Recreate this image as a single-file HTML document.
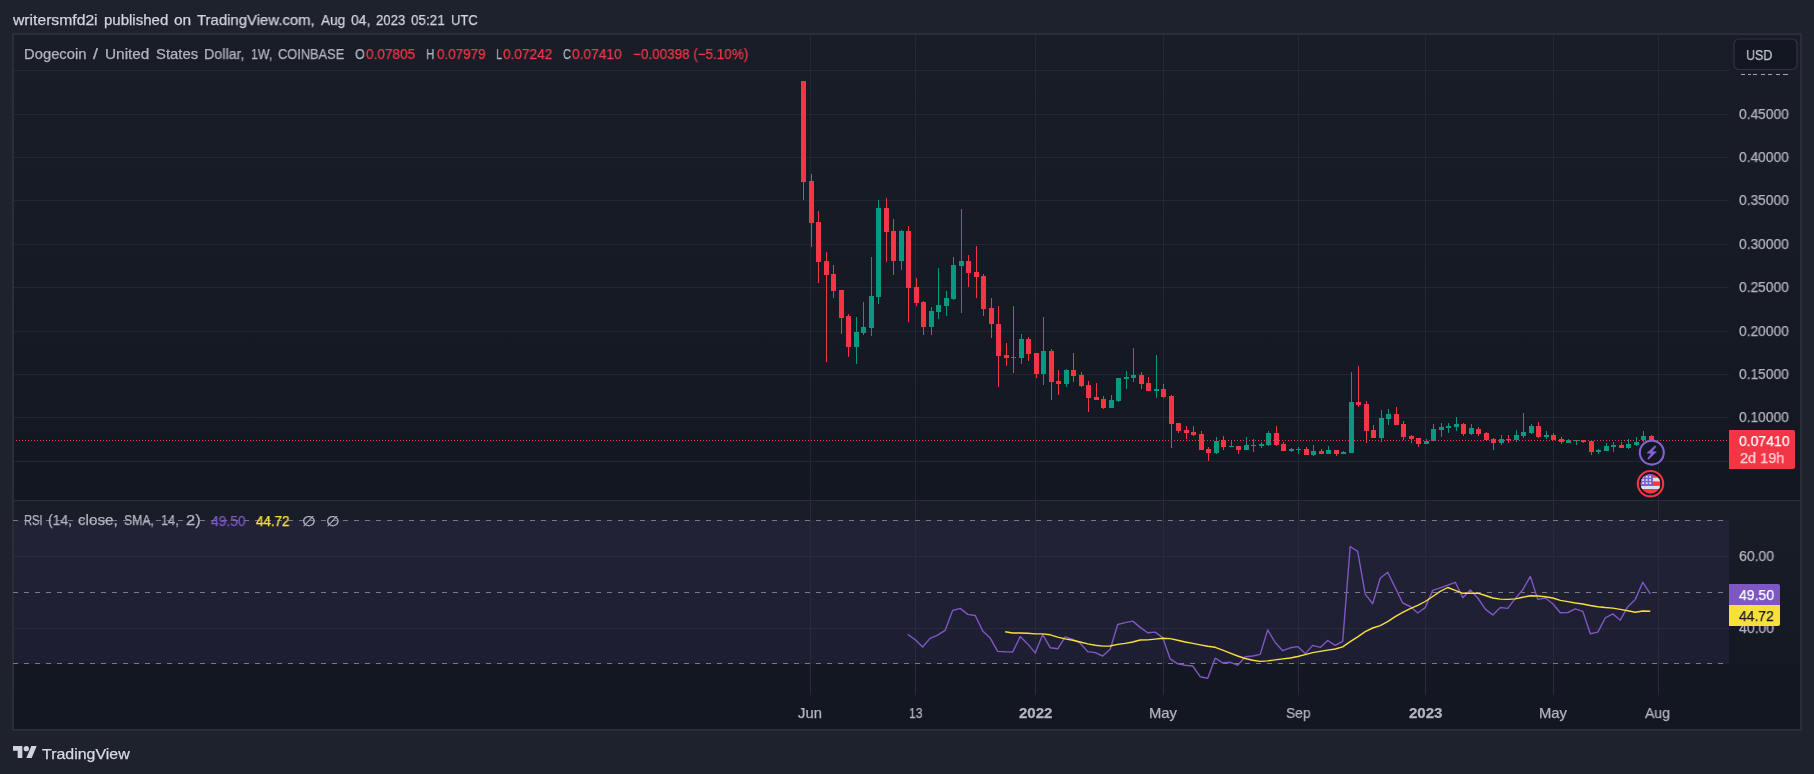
<!DOCTYPE html>
<html><head><meta charset="utf-8">
<style>
*{margin:0;padding:0;box-sizing:border-box}
html,body{width:1814px;height:774px;overflow:hidden;background:#1e222d;font-family:"Liberation Sans",sans-serif}
.t{position:absolute;white-space:nowrap;line-height:1;will-change:transform;-webkit-text-stroke:0.25px currentColor}
#frame{position:absolute;left:12px;top:33px;width:1790px;height:698px;border:2px solid #2a2e39;background:#161a25}
svg{position:absolute;left:0;top:0}
</style></head><body>
<div id="frame"></div>
<svg width="1814" height="774" viewBox="0 0 1814 774" shape-rendering="crispEdges">
<defs>
<linearGradient id="gm" x1="0" y1="0" x2="0" y2="1"><stop offset="0" stop-color="#191d28"/><stop offset="1" stop-color="#131722"/></linearGradient>
</defs>
<rect x="14" y="35" width="1786" height="465" fill="url(#gm)"/>
<rect x="14" y="501" width="1786" height="194" fill="url(#gm)"/>
<rect x="14" y="695" width="1786" height="34" fill="#131722"/>
<rect x="14" y="520" width="1715" height="144" fill="rgba(126,87,194,0.1)"/>
<rect x="14" y="461" width="1715" height="1" fill="rgba(42,46,57,0.65)"/>
<rect x="14" y="417" width="1715" height="1" fill="rgba(42,46,57,0.65)"/>
<rect x="14" y="374" width="1715" height="1" fill="rgba(42,46,57,0.65)"/>
<rect x="14" y="331" width="1715" height="1" fill="rgba(42,46,57,0.65)"/>
<rect x="14" y="287" width="1715" height="1" fill="rgba(42,46,57,0.65)"/>
<rect x="14" y="244" width="1715" height="1" fill="rgba(42,46,57,0.65)"/>
<rect x="14" y="200" width="1715" height="1" fill="rgba(42,46,57,0.65)"/>
<rect x="14" y="157" width="1715" height="1" fill="rgba(42,46,57,0.65)"/>
<rect x="14" y="114" width="1715" height="1" fill="rgba(42,46,57,0.65)"/>
<rect x="14" y="70" width="1715" height="1" fill="rgba(42,46,57,0.65)"/>
<rect x="810" y="35" width="1" height="465" fill="rgba(42,46,57,0.65)"/>
<rect x="810" y="501" width="1" height="194" fill="#2b2a3d"/>
<rect x="915" y="35" width="1" height="465" fill="rgba(42,46,57,0.65)"/>
<rect x="915" y="501" width="1" height="194" fill="#2b2a3d"/>
<rect x="1035" y="35" width="1" height="465" fill="rgba(42,46,57,0.65)"/>
<rect x="1035" y="501" width="1" height="194" fill="#2b2a3d"/>
<rect x="1163" y="35" width="1" height="465" fill="rgba(42,46,57,0.65)"/>
<rect x="1163" y="501" width="1" height="194" fill="#2b2a3d"/>
<rect x="1298" y="35" width="1" height="465" fill="rgba(42,46,57,0.65)"/>
<rect x="1298" y="501" width="1" height="194" fill="#2b2a3d"/>
<rect x="1425" y="35" width="1" height="465" fill="rgba(42,46,57,0.65)"/>
<rect x="1425" y="501" width="1" height="194" fill="#2b2a3d"/>
<rect x="1553" y="35" width="1" height="465" fill="rgba(42,46,57,0.65)"/>
<rect x="1553" y="501" width="1" height="194" fill="#2b2a3d"/>
<rect x="1658" y="35" width="1" height="465" fill="rgba(42,46,57,0.65)"/>
<rect x="1658" y="501" width="1" height="194" fill="#2b2a3d"/>
<rect x="14" y="556" width="1715" height="1" fill="#2c2a3e"/>
<rect x="14" y="628" width="1715" height="1" fill="#2c2a3e"/>
<rect x="14" y="500" width="1786" height="1" fill="#2a2e39"/>
<line x1="13" y1="520.5" x2="1729" y2="520.5" stroke="#787b86" stroke-width="1" stroke-dasharray="5,6"/>
<line x1="13" y1="592.5" x2="1729" y2="592.5" stroke="#787b86" stroke-width="1" stroke-dasharray="5,6"/>
<line x1="13" y1="663.5" x2="1729" y2="663.5" stroke="#787b86" stroke-width="1" stroke-dasharray="5,6"/>
<rect x="803" y="81" width="1" height="119" fill="#f23645"/>
<rect x="801" y="81" width="5" height="101" fill="#f23645"/>
<rect x="811" y="174" width="1" height="73" fill="#f23645"/>
<rect x="809" y="181" width="5" height="42" fill="#f23645"/>
<rect x="818" y="211" width="1" height="72" fill="#f23645"/>
<rect x="816" y="222" width="5" height="40" fill="#f23645"/>
<rect x="826" y="252" width="1" height="110" fill="#f23645"/>
<rect x="824" y="261" width="5" height="14" fill="#f23645"/>
<rect x="833" y="265" width="1" height="33" fill="#f23645"/>
<rect x="831" y="274" width="5" height="17" fill="#f23645"/>
<rect x="841" y="290" width="1" height="44" fill="#f23645"/>
<rect x="839" y="290" width="5" height="28" fill="#f23645"/>
<rect x="848" y="314" width="1" height="43" fill="#f23645"/>
<rect x="846" y="316" width="5" height="31" fill="#f23645"/>
<rect x="856" y="317" width="1" height="47" fill="#089981"/>
<rect x="854" y="332" width="5" height="15" fill="#089981"/>
<rect x="863" y="302" width="1" height="33" fill="#089981"/>
<rect x="861" y="327" width="5" height="6" fill="#089981"/>
<rect x="871" y="257" width="1" height="79" fill="#089981"/>
<rect x="869" y="296" width="5" height="32" fill="#089981"/>
<rect x="878" y="200" width="1" height="104" fill="#089981"/>
<rect x="876" y="208" width="5" height="89" fill="#089981"/>
<rect x="886" y="198" width="1" height="64" fill="#f23645"/>
<rect x="884" y="208" width="5" height="24" fill="#f23645"/>
<rect x="893" y="219" width="1" height="56" fill="#f23645"/>
<rect x="891" y="231" width="5" height="30" fill="#f23645"/>
<rect x="901" y="230" width="1" height="40" fill="#089981"/>
<rect x="899" y="231" width="5" height="30" fill="#089981"/>
<rect x="908" y="226" width="1" height="96" fill="#f23645"/>
<rect x="906" y="231" width="5" height="57" fill="#f23645"/>
<rect x="916" y="278" width="1" height="28" fill="#f23645"/>
<rect x="914" y="287" width="5" height="16" fill="#f23645"/>
<rect x="923" y="301" width="1" height="34" fill="#f23645"/>
<rect x="921" y="302" width="5" height="25" fill="#f23645"/>
<rect x="931" y="307" width="1" height="28" fill="#089981"/>
<rect x="929" y="311" width="5" height="16" fill="#089981"/>
<rect x="938" y="268" width="1" height="51" fill="#089981"/>
<rect x="936" y="305" width="5" height="7" fill="#089981"/>
<rect x="946" y="291" width="1" height="25" fill="#089981"/>
<rect x="944" y="298" width="5" height="8" fill="#089981"/>
<rect x="953" y="257" width="1" height="43" fill="#089981"/>
<rect x="951" y="265" width="5" height="34" fill="#089981"/>
<rect x="961" y="209" width="1" height="104" fill="#089981"/>
<rect x="959" y="261" width="5" height="5" fill="#089981"/>
<rect x="968" y="255" width="1" height="32" fill="#f23645"/>
<rect x="966" y="261" width="5" height="12" fill="#f23645"/>
<rect x="976" y="246" width="1" height="52" fill="#f23645"/>
<rect x="974" y="272" width="5" height="5" fill="#f23645"/>
<rect x="983" y="274" width="1" height="42" fill="#f23645"/>
<rect x="981" y="276" width="5" height="33" fill="#f23645"/>
<rect x="991" y="298" width="1" height="40" fill="#f23645"/>
<rect x="989" y="308" width="5" height="16" fill="#f23645"/>
<rect x="998" y="306" width="1" height="81" fill="#f23645"/>
<rect x="996" y="324" width="5" height="32" fill="#f23645"/>
<rect x="1006" y="343" width="1" height="23" fill="#f23645"/>
<rect x="1004" y="355" width="5" height="3" fill="#f23645"/>
<rect x="1013" y="306" width="1" height="67" fill="#f23645"/>
<rect x="1011" y="357" width="5" height="1" fill="#f23645"/>
<rect x="1021" y="334" width="1" height="30" fill="#089981"/>
<rect x="1019" y="339" width="5" height="19" fill="#089981"/>
<rect x="1028" y="337" width="1" height="24" fill="#f23645"/>
<rect x="1026" y="339" width="5" height="15" fill="#f23645"/>
<rect x="1036" y="353" width="1" height="25" fill="#f23645"/>
<rect x="1034" y="353" width="5" height="21" fill="#f23645"/>
<rect x="1043" y="317" width="1" height="68" fill="#089981"/>
<rect x="1041" y="351" width="5" height="23" fill="#089981"/>
<rect x="1051" y="349" width="1" height="51" fill="#f23645"/>
<rect x="1049" y="351" width="5" height="31" fill="#f23645"/>
<rect x="1058" y="370" width="1" height="25" fill="#f23645"/>
<rect x="1056" y="381" width="5" height="3" fill="#f23645"/>
<rect x="1066" y="369" width="1" height="18" fill="#089981"/>
<rect x="1064" y="370" width="5" height="14" fill="#089981"/>
<rect x="1073" y="353" width="1" height="29" fill="#f23645"/>
<rect x="1071" y="370" width="5" height="6" fill="#f23645"/>
<rect x="1081" y="372" width="1" height="15" fill="#f23645"/>
<rect x="1079" y="375" width="5" height="11" fill="#f23645"/>
<rect x="1088" y="381" width="1" height="31" fill="#f23645"/>
<rect x="1086" y="385" width="5" height="13" fill="#f23645"/>
<rect x="1096" y="383" width="1" height="17" fill="#f23645"/>
<rect x="1094" y="397" width="5" height="3" fill="#f23645"/>
<rect x="1103" y="396" width="1" height="13" fill="#f23645"/>
<rect x="1101" y="399" width="5" height="9" fill="#f23645"/>
<rect x="1111" y="395" width="1" height="13" fill="#089981"/>
<rect x="1109" y="400" width="5" height="8" fill="#089981"/>
<rect x="1118" y="378" width="1" height="24" fill="#089981"/>
<rect x="1116" y="378" width="5" height="23" fill="#089981"/>
<rect x="1126" y="371" width="1" height="18" fill="#089981"/>
<rect x="1124" y="377" width="5" height="2" fill="#089981"/>
<rect x="1133" y="348" width="1" height="34" fill="#089981"/>
<rect x="1131" y="375" width="5" height="3" fill="#089981"/>
<rect x="1141" y="372" width="1" height="17" fill="#f23645"/>
<rect x="1139" y="375" width="5" height="9" fill="#f23645"/>
<rect x="1148" y="377" width="1" height="14" fill="#f23645"/>
<rect x="1146" y="383" width="5" height="8" fill="#f23645"/>
<rect x="1156" y="355" width="1" height="43" fill="#089981"/>
<rect x="1154" y="389" width="5" height="2" fill="#089981"/>
<rect x="1163" y="384" width="1" height="14" fill="#f23645"/>
<rect x="1161" y="389" width="5" height="8" fill="#f23645"/>
<rect x="1171" y="395" width="1" height="53" fill="#f23645"/>
<rect x="1169" y="396" width="5" height="28" fill="#f23645"/>
<rect x="1178" y="423" width="1" height="10" fill="#f23645"/>
<rect x="1176" y="423" width="5" height="8" fill="#f23645"/>
<rect x="1186" y="426" width="1" height="13" fill="#f23645"/>
<rect x="1184" y="430" width="5" height="3" fill="#f23645"/>
<rect x="1193" y="426" width="1" height="10" fill="#f23645"/>
<rect x="1191" y="432" width="5" height="3" fill="#f23645"/>
<rect x="1201" y="431" width="1" height="19" fill="#f23645"/>
<rect x="1199" y="434" width="5" height="16" fill="#f23645"/>
<rect x="1208" y="447" width="1" height="14" fill="#f23645"/>
<rect x="1206" y="449" width="5" height="4" fill="#f23645"/>
<rect x="1216" y="437" width="1" height="17" fill="#089981"/>
<rect x="1214" y="441" width="5" height="12" fill="#089981"/>
<rect x="1223" y="436" width="1" height="14" fill="#f23645"/>
<rect x="1221" y="440" width="5" height="7" fill="#f23645"/>
<rect x="1231" y="440" width="1" height="7" fill="#089981"/>
<rect x="1229" y="446" width="5" height="1" fill="#089981"/>
<rect x="1238" y="446" width="1" height="8" fill="#f23645"/>
<rect x="1236" y="446" width="5" height="4" fill="#f23645"/>
<rect x="1246" y="437" width="1" height="13" fill="#089981"/>
<rect x="1244" y="445" width="5" height="5" fill="#089981"/>
<rect x="1253" y="439" width="1" height="13" fill="#089981"/>
<rect x="1251" y="445" width="5" height="1" fill="#089981"/>
<rect x="1261" y="442" width="1" height="6" fill="#089981"/>
<rect x="1259" y="444" width="5" height="2" fill="#089981"/>
<rect x="1268" y="431" width="1" height="15" fill="#089981"/>
<rect x="1266" y="433" width="5" height="12" fill="#089981"/>
<rect x="1276" y="426" width="1" height="20" fill="#f23645"/>
<rect x="1274" y="433" width="5" height="12" fill="#f23645"/>
<rect x="1283" y="442" width="1" height="9" fill="#f23645"/>
<rect x="1281" y="444" width="5" height="7" fill="#f23645"/>
<rect x="1291" y="448" width="1" height="4" fill="#089981"/>
<rect x="1289" y="449" width="5" height="2" fill="#089981"/>
<rect x="1298" y="447" width="1" height="7" fill="#089981"/>
<rect x="1296" y="449" width="5" height="1" fill="#089981"/>
<rect x="1306" y="447" width="1" height="8" fill="#f23645"/>
<rect x="1304" y="449" width="5" height="6" fill="#f23645"/>
<rect x="1313" y="445" width="1" height="11" fill="#089981"/>
<rect x="1311" y="451" width="5" height="4" fill="#089981"/>
<rect x="1321" y="449" width="1" height="5" fill="#f23645"/>
<rect x="1319" y="451" width="5" height="3" fill="#f23645"/>
<rect x="1328" y="446" width="1" height="8" fill="#089981"/>
<rect x="1326" y="450" width="5" height="4" fill="#089981"/>
<rect x="1336" y="450" width="1" height="6" fill="#f23645"/>
<rect x="1334" y="450" width="5" height="4" fill="#f23645"/>
<rect x="1343" y="451" width="1" height="3" fill="#089981"/>
<rect x="1341" y="452" width="5" height="2" fill="#089981"/>
<rect x="1351" y="372" width="1" height="81" fill="#089981"/>
<rect x="1349" y="402" width="5" height="51" fill="#089981"/>
<rect x="1358" y="366" width="1" height="41" fill="#f23645"/>
<rect x="1356" y="402" width="5" height="3" fill="#f23645"/>
<rect x="1366" y="401" width="1" height="42" fill="#f23645"/>
<rect x="1364" y="404" width="5" height="27" fill="#f23645"/>
<rect x="1373" y="425" width="1" height="13" fill="#f23645"/>
<rect x="1371" y="430" width="5" height="8" fill="#f23645"/>
<rect x="1381" y="410" width="1" height="32" fill="#089981"/>
<rect x="1379" y="418" width="5" height="20" fill="#089981"/>
<rect x="1388" y="409" width="1" height="16" fill="#089981"/>
<rect x="1386" y="414" width="5" height="5" fill="#089981"/>
<rect x="1396" y="407" width="1" height="18" fill="#f23645"/>
<rect x="1394" y="414" width="5" height="11" fill="#f23645"/>
<rect x="1403" y="421" width="1" height="19" fill="#f23645"/>
<rect x="1401" y="424" width="5" height="13" fill="#f23645"/>
<rect x="1411" y="435" width="1" height="8" fill="#f23645"/>
<rect x="1409" y="436" width="5" height="3" fill="#f23645"/>
<rect x="1418" y="438" width="1" height="9" fill="#f23645"/>
<rect x="1416" y="438" width="5" height="6" fill="#f23645"/>
<rect x="1426" y="439" width="1" height="5" fill="#089981"/>
<rect x="1424" y="441" width="5" height="3" fill="#089981"/>
<rect x="1433" y="424" width="1" height="17" fill="#089981"/>
<rect x="1431" y="429" width="5" height="12" fill="#089981"/>
<rect x="1441" y="423" width="1" height="14" fill="#089981"/>
<rect x="1439" y="427" width="5" height="3" fill="#089981"/>
<rect x="1448" y="423" width="1" height="10" fill="#089981"/>
<rect x="1446" y="426" width="5" height="2" fill="#089981"/>
<rect x="1456" y="417" width="1" height="14" fill="#089981"/>
<rect x="1454" y="424" width="5" height="3" fill="#089981"/>
<rect x="1463" y="423" width="1" height="13" fill="#f23645"/>
<rect x="1461" y="424" width="5" height="10" fill="#f23645"/>
<rect x="1471" y="424" width="1" height="11" fill="#089981"/>
<rect x="1469" y="428" width="5" height="6" fill="#089981"/>
<rect x="1478" y="427" width="1" height="9" fill="#f23645"/>
<rect x="1476" y="429" width="5" height="5" fill="#f23645"/>
<rect x="1486" y="432" width="1" height="8" fill="#f23645"/>
<rect x="1484" y="433" width="5" height="7" fill="#f23645"/>
<rect x="1493" y="438" width="1" height="12" fill="#f23645"/>
<rect x="1491" y="439" width="5" height="4" fill="#f23645"/>
<rect x="1501" y="435" width="1" height="10" fill="#089981"/>
<rect x="1499" y="439" width="5" height="4" fill="#089981"/>
<rect x="1508" y="435" width="1" height="8" fill="#f23645"/>
<rect x="1506" y="439" width="5" height="1" fill="#f23645"/>
<rect x="1516" y="430" width="1" height="12" fill="#089981"/>
<rect x="1514" y="435" width="5" height="5" fill="#089981"/>
<rect x="1523" y="413" width="1" height="25" fill="#089981"/>
<rect x="1521" y="432" width="5" height="4" fill="#089981"/>
<rect x="1531" y="424" width="1" height="10" fill="#089981"/>
<rect x="1529" y="426" width="5" height="7" fill="#089981"/>
<rect x="1538" y="422" width="1" height="16" fill="#f23645"/>
<rect x="1536" y="426" width="5" height="11" fill="#f23645"/>
<rect x="1546" y="431" width="1" height="8" fill="#089981"/>
<rect x="1544" y="435" width="5" height="2" fill="#089981"/>
<rect x="1553" y="433" width="1" height="7" fill="#f23645"/>
<rect x="1551" y="435" width="5" height="5" fill="#f23645"/>
<rect x="1561" y="437" width="1" height="7" fill="#f23645"/>
<rect x="1559" y="439" width="5" height="3" fill="#f23645"/>
<rect x="1568" y="439" width="1" height="4" fill="#089981"/>
<rect x="1566" y="440" width="5" height="3" fill="#089981"/>
<rect x="1576" y="440" width="1" height="5" fill="#089981"/>
<rect x="1574" y="440" width="5" height="1" fill="#089981"/>
<rect x="1583" y="440" width="1" height="3" fill="#f23645"/>
<rect x="1581" y="440" width="5" height="2" fill="#f23645"/>
<rect x="1591" y="440" width="1" height="15" fill="#f23645"/>
<rect x="1589" y="441" width="5" height="11" fill="#f23645"/>
<rect x="1598" y="449" width="1" height="5" fill="#089981"/>
<rect x="1596" y="450" width="5" height="2" fill="#089981"/>
<rect x="1606" y="443" width="1" height="8" fill="#089981"/>
<rect x="1604" y="446" width="5" height="5" fill="#089981"/>
<rect x="1613" y="442" width="1" height="10" fill="#089981"/>
<rect x="1611" y="445" width="5" height="2" fill="#089981"/>
<rect x="1621" y="442" width="1" height="6" fill="#f23645"/>
<rect x="1619" y="445" width="5" height="3" fill="#f23645"/>
<rect x="1628" y="439" width="1" height="10" fill="#089981"/>
<rect x="1626" y="444" width="5" height="4" fill="#089981"/>
<rect x="1636" y="437" width="1" height="9" fill="#089981"/>
<rect x="1634" y="442" width="5" height="3" fill="#089981"/>
<rect x="1643" y="431" width="1" height="11" fill="#089981"/>
<rect x="1641" y="436" width="5" height="4" fill="#089981"/>
<rect x="1651" y="435" width="1" height="6" fill="#f23645"/>
<rect x="1649" y="436" width="5" height="4" fill="#f23645"/>
<line x1="14" y1="440.5" x2="1729" y2="440.5" stroke="#f23645" stroke-width="1" stroke-dasharray="1,2" stroke-dashoffset="1"/>
</svg>
<svg width="1814" height="774" viewBox="0 0 1814 774">
<polyline points="907.6,634.3 915.1,639.6 922.6,647.0 930.1,638.4 937.6,635.2 945.1,630.4 952.6,610.5 960.2,608.4 967.7,614.4 975.2,615.5 982.7,630.9 990.2,638.1 997.7,651.4 1005.2,651.8 1012.7,652.0 1020.2,636.6 1027.7,643.9 1035.2,652.9 1042.7,634.6 1050.2,647.7 1057.7,648.8 1065.2,636.9 1072.7,639.3 1080.2,643.2 1087.7,651.6 1095.2,652.6 1102.7,656.0 1110.2,649.3 1117.7,624.5 1125.2,622.6 1132.7,621.1 1140.2,627.4 1147.7,632.8 1155.2,632.1 1162.7,637.6 1170.2,658.9 1177.7,663.8 1185.2,665.2 1192.7,666.0 1200.2,676.7 1207.7,678.3 1215.2,658.2 1222.7,662.8 1230.2,662.3 1237.7,665.2 1245.2,656.7 1252.7,656.0 1260.2,654.4 1267.7,629.9 1275.2,642.5 1282.7,650.7 1290.2,647.8 1297.7,646.6 1305.2,653.6 1312.7,645.4 1320.2,647.4 1327.7,640.5 1335.2,645.3 1342.7,641.4 1350.2,546.5 1357.7,551.3 1365.2,594.1 1372.7,603.8 1380.2,578.3 1387.7,572.3 1395.2,587.6 1402.7,603.0 1410.2,606.5 1417.7,613.0 1425.2,607.6 1432.7,590.4 1440.2,587.8 1447.7,585.2 1455.3,582.3 1462.8,597.8 1470.3,590.0 1477.8,598.0 1485.3,609.1 1492.8,614.9 1500.3,607.5 1507.8,608.4 1515.3,598.4 1522.8,589.7 1530.3,576.4 1537.8,599.4 1545.3,598.0 1552.8,603.8 1560.3,612.7 1567.8,612.5 1575.3,608.8 1582.8,611.3 1590.3,633.8 1597.8,632.1 1605.3,617.8 1612.8,613.9 1620.3,620.2 1627.8,606.7 1635.3,599.4 1642.8,582.3 1650.3,593.8" fill="none" stroke="#7e57c2" stroke-width="1.4" stroke-linejoin="round"/>
<polyline points="1005.2,631.8 1012.7,633.0 1020.2,633.0 1027.7,633.3 1035.2,633.9 1042.7,633.9 1050.2,634.8 1057.7,637.1 1065.2,638.9 1072.7,640.3 1080.2,642.0 1087.7,643.9 1095.2,645.2 1102.7,646.1 1110.2,646.0 1117.7,644.4 1125.2,643.4 1132.7,642.0 1140.2,640.0 1147.7,639.9 1155.2,639.1 1162.7,638.3 1170.2,638.6 1177.7,640.2 1185.2,642.0 1192.7,643.4 1200.2,644.9 1207.7,646.3 1215.2,647.3 1222.7,650.2 1230.2,653.1 1237.7,656.0 1245.2,658.5 1252.7,660.2 1260.2,661.4 1267.7,660.9 1275.2,659.9 1282.7,658.9 1290.2,658.0 1297.7,656.5 1305.2,654.6 1312.7,652.6 1320.2,651.4 1327.7,650.1 1335.2,649.0 1342.7,646.9 1350.2,641.7 1357.7,636.9 1365.2,631.7 1372.7,628.0 1380.2,625.6 1387.7,621.6 1395.2,616.7 1402.7,612.4 1410.2,608.6 1417.7,605.4 1425.2,601.5 1432.7,596.5 1440.2,591.4 1447.7,587.5 1455.3,590.4 1462.8,593.3 1470.3,593.3 1477.8,593.1 1485.3,595.5 1492.8,598.0 1500.3,599.1 1507.8,599.4 1515.3,598.9 1522.8,597.2 1530.3,595.8 1537.8,596.0 1545.3,596.8 1552.8,598.0 1560.3,600.4 1567.8,601.6 1575.3,603.0 1582.8,604.0 1590.3,605.5 1597.8,606.7 1605.3,607.5 1612.8,608.1 1620.3,609.4 1627.8,610.7 1635.3,612.2 1642.8,611.0 1650.3,611.2" fill="none" stroke="#f7e03b" stroke-width="1.4" stroke-linejoin="round"/>
<!-- lightning -->
<circle cx="1651.8" cy="452.6" r="12" fill="#131722" stroke="#8460d2" stroke-width="2.1"/>
<path d="M1655 445.6 L1656.4 446.4 L1652.6 451.2 L1657 451.6 L1648.6 459.4 L1647.3 458.8 L1651 453.7 L1646.4 453.3 Z" fill="#8460d2"/>
<!-- flag -->
<circle cx="1650.5" cy="483.7" r="12.7" fill="#131722" stroke="#f23645" stroke-width="2.1"/>
<clipPath id="fc"><circle cx="1650.5" cy="483.8" r="9.9"/></clipPath>
<g clip-path="url(#fc)">
<rect x="1640" y="473" width="22" height="22" fill="#f23645"/>
<rect x="1640" y="477.7" width="22" height="3.7" fill="#dde0ea"/>
<rect x="1640" y="485.9" width="22" height="3.1" fill="#dde0ea"/>
<rect x="1640" y="473" width="12.9" height="12.9" fill="#7b5fd4"/>
<g fill="#dde0ea"><rect x="1642.3" y="475.9" width="1.8" height="1.8"/><rect x="1645.8" y="475.9" width="1.8" height="1.8"/><rect x="1649.2" y="475.9" width="1.8" height="1.8"/><rect x="1642.3" y="479.1" width="1.8" height="1.8"/><rect x="1645.8" y="479.1" width="1.8" height="1.8"/><rect x="1649.2" y="479.1" width="1.8" height="1.8"/><rect x="1642.3" y="482.2" width="1.8" height="1.8"/><rect x="1645.8" y="482.2" width="1.8" height="1.8"/><rect x="1649.2" y="482.2" width="1.8" height="1.8"/></g>
</g>
<!-- USD box -->
<rect x="1734" y="39" width="63" height="30.5" rx="5" fill="#131722" stroke="#363046" stroke-width="1.2"/>
<g fill="#a3a6af" shape-rendering="crispEdges"><rect x="1741" y="74" width="4" height="1"/><rect x="1748" y="74" width="3" height="1"/><rect x="1753" y="74" width="4" height="1"/><rect x="1761" y="74" width="4" height="1"/><rect x="1768" y="74" width="4" height="1"/><rect x="1776" y="74" width="4" height="1"/><rect x="1783" y="74" width="5" height="1"/></g>
<!-- price label -->
<!-- TV logo -->
<g transform="translate(13 743.3) scale(0.667)" fill="#d1d4dc"><path d="M14 22H7V11H0V4h14v18zM28 22h-8l7.5-18h8L28 22z"/><circle cx="20" cy="8" r="4"/></g>
</svg>
<div class="t" style="left:13.28px;top:12.10px;font-size:15px;color:#d1d4dc;font-weight:400;transform:scaleX(1.0466);transform-origin:0 0;">writersmfd2i</div>
<div class="t" style="left:103.90px;top:12.10px;font-size:15px;color:#d1d4dc;font-weight:400;">published</div>
<div class="t" style="left:174.00px;top:12.10px;font-size:15px;color:#d1d4dc;font-weight:400;transform:scaleX(1.0330);transform-origin:0 0;">on</div>
<div class="t" style="left:197.20px;top:12.10px;font-size:15px;color:#d1d4dc;font-weight:400;transform:scaleX(0.9939);transform-origin:0 0;">TradingView.com,</div>
<div class="t" style="left:320.90px;top:12.10px;font-size:15px;color:#d1d4dc;font-weight:400;transform:scaleX(0.9101);transform-origin:0 0;">Aug</div>
<div class="t" style="left:350.70px;top:12.10px;font-size:15px;color:#d1d4dc;font-weight:400;transform:scaleX(0.9257);transform-origin:0 0;">04,</div>
<div class="t" style="left:376.00px;top:12.10px;font-size:15px;color:#d1d4dc;font-weight:400;transform:scaleX(0.8779);transform-origin:0 0;">2023</div>
<div class="t" style="left:410.70px;top:12.10px;font-size:15px;color:#d1d4dc;font-weight:400;transform:scaleX(0.8995);transform-origin:0 0;">05:21</div>
<div class="t" style="left:450.90px;top:12.10px;font-size:15px;color:#d1d4dc;font-weight:400;transform:scaleX(0.8694);transform-origin:0 0;">UTC</div>
<div class="t" style="left:23.50px;top:46.54px;font-size:14.6px;color:#b2b5be;font-weight:400;transform:scaleX(1.0132);transform-origin:0 0;">Dogecoin</div>
<div class="t" style="left:92.90px;top:46.54px;font-size:14.6px;color:#b2b5be;font-weight:400;transform:scaleX(1.2231);transform-origin:0 0;">/</div>
<div class="t" style="left:105.10px;top:46.54px;font-size:14.6px;color:#b2b5be;font-weight:400;transform:scaleX(1.0523);transform-origin:0 0;">United</div>
<div class="t" style="left:155.50px;top:46.54px;font-size:14.6px;color:#b2b5be;font-weight:400;transform:scaleX(1.0171);transform-origin:0 0;">States</div>
<div class="t" style="left:203.80px;top:46.54px;font-size:14.6px;color:#b2b5be;font-weight:400;transform:scaleX(0.9785);transform-origin:0 0;">Dollar,</div>
<div class="t" style="left:250.90px;top:46.54px;font-size:14.6px;color:#b2b5be;font-weight:400;transform:scaleX(0.8537);transform-origin:0 0;">1W,</div>
<div class="t" style="left:278.40px;top:46.54px;font-size:14.6px;color:#b2b5be;font-weight:400;transform:scaleX(0.8770);transform-origin:0 0;">COINBASE</div>
<div class="t" style="left:354.50px;top:46.54px;font-size:14.6px;color:#b2b5be;font-weight:400;transform:scaleX(0.8518);transform-origin:0 0;">O</div>
<div class="t" style="left:365.80px;top:46.71px;font-size:14.4px;color:#f23645;font-weight:400;transform:scaleX(0.9451);transform-origin:0 0;">0.07805</div>
<div class="t" style="left:425.90px;top:46.54px;font-size:14.6px;color:#b2b5be;font-weight:400;transform:scaleX(0.7991);transform-origin:0 0;">H</div>
<div class="t" style="left:436.50px;top:46.71px;font-size:14.4px;color:#f23645;font-weight:400;transform:scaleX(0.9336);transform-origin:0 0;">0.07979</div>
<div class="t" style="left:496.00px;top:46.54px;font-size:14.6px;color:#b2b5be;font-weight:400;transform:scaleX(0.7528);transform-origin:0 0;">L</div>
<div class="t" style="left:503.20px;top:46.71px;font-size:14.4px;color:#f23645;font-weight:400;transform:scaleX(0.9471);transform-origin:0 0;">0.07242</div>
<div class="t" style="left:563.10px;top:46.54px;font-size:14.6px;color:#b2b5be;font-weight:400;transform:scaleX(0.7515);transform-origin:0 0;">C</div>
<div class="t" style="left:572.20px;top:46.71px;font-size:14.4px;color:#f23645;font-weight:400;transform:scaleX(0.9547);transform-origin:0 0;">0.07410</div>
<div class="t" style="left:632.50px;top:46.71px;font-size:14.4px;color:#f23645;font-weight:400;transform:scaleX(0.9354);transform-origin:0 0;">−0.00398 (−5.10%)</div>
<div class="t" style="left:23.80px;top:513.34px;font-size:14.6px;color:#b2b5be;font-weight:400;transform:scaleX(0.7610);transform-origin:0 0;">RSI</div>
<div class="t" style="left:48.40px;top:513.34px;font-size:14.6px;color:#b2b5be;font-weight:400;transform:scaleX(0.9569);transform-origin:0 0;">(14,</div>
<div class="t" style="left:78.20px;top:513.34px;font-size:14.6px;color:#b2b5be;font-weight:400;transform:scaleX(1.0445);transform-origin:0 0;">close,</div>
<div class="t" style="left:124.30px;top:513.34px;font-size:14.6px;color:#b2b5be;font-weight:400;transform:scaleX(0.8376);transform-origin:0 0;">SMA,</div>
<div class="t" style="left:160.50px;top:513.34px;font-size:14.6px;color:#b2b5be;font-weight:400;transform:scaleX(0.8771);transform-origin:0 0;">14,</div>
<div class="t" style="left:185.60px;top:513.34px;font-size:14.6px;color:#b2b5be;font-weight:400;transform:scaleX(1.1313);transform-origin:0 0;">2)</div>
<div class="t" style="left:210.60px;top:513.51px;font-size:14.4px;color:#7e57c2;font-weight:400;transform:scaleX(0.9592);transform-origin:0 0;">49.50</div>
<div class="t" style="left:255.80px;top:513.51px;font-size:14.4px;color:#f7e03b;font-weight:400;transform:scaleX(0.9287);transform-origin:0 0;">44.72</div>
<div class="t" style="left:302.00px;top:513.51px;font-size:14.4px;color:#b2b5be;font-weight:400;transform:scaleX(1.1296);transform-origin:0 0;">∅</div>
<div class="t" style="left:326.40px;top:513.51px;font-size:14.4px;color:#b2b5be;font-weight:400;transform:scaleX(1.1204);transform-origin:0 0;">∅</div>
<div class="t" style="left:1738.80px;top:410.30px;font-size:14.3px;color:#b2b5be;font-weight:400;transform:scaleX(0.9653);transform-origin:0 0;">0.10000</div>
<div class="t" style="left:1738.80px;top:366.90px;font-size:14.3px;color:#b2b5be;font-weight:400;transform:scaleX(0.9653);transform-origin:0 0;">0.15000</div>
<div class="t" style="left:1738.80px;top:323.50px;font-size:14.3px;color:#b2b5be;font-weight:400;transform:scaleX(0.9653);transform-origin:0 0;">0.20000</div>
<div class="t" style="left:1738.80px;top:280.10px;font-size:14.3px;color:#b2b5be;font-weight:400;transform:scaleX(0.9653);transform-origin:0 0;">0.25000</div>
<div class="t" style="left:1738.80px;top:236.70px;font-size:14.3px;color:#b2b5be;font-weight:400;transform:scaleX(0.9653);transform-origin:0 0;">0.30000</div>
<div class="t" style="left:1738.80px;top:193.30px;font-size:14.3px;color:#b2b5be;font-weight:400;transform:scaleX(0.9653);transform-origin:0 0;">0.35000</div>
<div class="t" style="left:1738.80px;top:149.90px;font-size:14.3px;color:#b2b5be;font-weight:400;transform:scaleX(0.9653);transform-origin:0 0;">0.40000</div>
<div class="t" style="left:1738.80px;top:106.50px;font-size:14.3px;color:#b2b5be;font-weight:400;transform:scaleX(0.9653);transform-origin:0 0;">0.45000</div>
<div class="t" style="left:1745.50px;top:47.30px;font-size:15px;color:#c3c6ce;font-weight:400;transform:scaleX(0.8341);transform-origin:0 0;">USD</div>
<div style="position:absolute;left:1729px;top:430px;width:66px;height:39px;background:#f23645;border-radius:0 2px 2px 0"></div>
<div class="t" style="left:1739.10px;top:433.10px;font-size:15px;color:#ffffff;font-weight:400;transform:scaleX(0.9313);transform-origin:0 0;">0.07410</div>
<div class="t" style="left:1739.50px;top:451.24px;font-size:14.6px;color:#fbd0d4;font-weight:400;transform:scaleX(0.9916);transform-origin:0 0;">2d 19h</div>
<div class="t" style="left:1739.00px;top:548.50px;font-size:14.3px;color:#b2b5be;font-weight:400;transform:scaleX(0.9827);transform-origin:0 0;">60.00</div>
<div class="t" style="left:1739.00px;top:620.80px;font-size:14.3px;color:#b2b5be;font-weight:400;transform:scaleX(0.9827);transform-origin:0 0;">40.00</div>
<div style="position:absolute;left:1729px;top:584px;width:51px;height:20.6px;background:#7e57c2;border-radius:0 2px 0 0"></div>
<div style="position:absolute;left:1729px;top:604.6px;width:51px;height:21.4px;background:#f7e03b;border-radius:0 0 2px 0"></div>
<div class="t" style="left:1739.00px;top:587.10px;font-size:15px;color:#ffffff;font-weight:400;transform:scaleX(0.9341);transform-origin:0 0;">49.50</div>
<div class="t" style="left:1739.00px;top:608.10px;font-size:15px;color:#131722;font-weight:400;transform:scaleX(0.9261);transform-origin:0 0;">44.72</div>
<div class="t" style="left:798.20px;top:705.57px;font-size:14.8px;color:#b2b5be;font-weight:400;">Jun</div>
<div class="t" style="left:909.30px;top:705.57px;font-size:14.8px;color:#b2b5be;font-weight:400;transform:scaleX(0.8218);transform-origin:0 0;">13</div>
<div class="t" style="left:1018.90px;top:705.57px;font-size:14.8px;color:#b2b5be;font-weight:700;transform:scaleX(1.0173);transform-origin:0 0;">2022</div>
<div class="t" style="left:1148.80px;top:705.57px;font-size:14.8px;color:#b2b5be;font-weight:400;transform:scaleX(0.9903);transform-origin:0 0;">May</div>
<div class="t" style="left:1285.50px;top:705.57px;font-size:14.8px;color:#b2b5be;font-weight:400;transform:scaleX(0.9376);transform-origin:0 0;">Sep</div>
<div class="t" style="left:1408.50px;top:705.57px;font-size:14.8px;color:#b2b5be;font-weight:700;transform:scaleX(1.0173);transform-origin:0 0;">2023</div>
<div class="t" style="left:1539.00px;top:705.57px;font-size:14.8px;color:#b2b5be;font-weight:400;transform:scaleX(0.9867);transform-origin:0 0;">May</div>
<div class="t" style="left:1645.40px;top:705.57px;font-size:14.8px;color:#b2b5be;font-weight:400;transform:scaleX(0.9528);transform-origin:0 0;">Aug</div>
<div class="t" style="left:42.00px;top:746.03px;font-size:15.2px;color:#d9dae3;font-weight:400;transform:scaleX(1.0493);transform-origin:0 0;">TradingView</div>
</body></html>
